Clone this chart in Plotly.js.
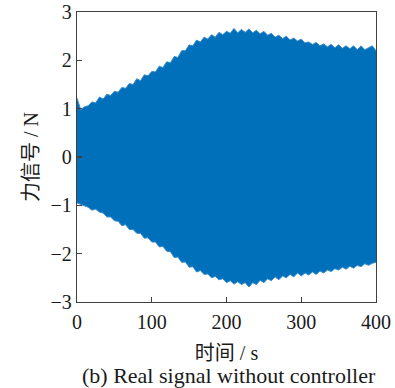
<!DOCTYPE html>
<html>
<head>
<meta charset="utf-8">
<script src="https://cdn.plot.ly/plotly-3.0.1.min.js"></script>
<style>html,body{margin:0;padding:0;background:#fff;}#chart{width:395px;height:388px;}</style>
</head>
<body>
<div id="chart"></div>
<script>
// time (s), sampled every 5 s
var timeS = [0,5,10,15,20,25,30,35,40,45,50,55,60,65,70,75,80,85,90,95,100,105,110,115,120,125,130,135,140,145,150,155,160,165,170,175,180,185,190,195,200,205,210,215,220,225,230,235,240,245,250,255,260,265,270,275,280,285,290,295,300,305,310,315,320,325,330,335,340,345,350,355,360,365,370,375,380,385,390,395,400];
// upper envelope of the force signal (N)
var upperN = [1.22,0.98,1.04,1.06,1.14,1.12,1.24,1.2,1.3,1.27,1.36,1.34,1.44,1.42,1.52,1.5,1.62,1.58,1.7,1.68,1.77,1.76,1.88,1.85,1.97,1.95,2.08,2.06,2.2,2.2,2.32,2.3,2.42,2.38,2.48,2.44,2.53,2.48,2.58,2.53,2.6,2.56,2.66,2.57,2.64,2.58,2.65,2.57,2.62,2.55,2.6,2.52,2.56,2.48,2.52,2.45,2.5,2.42,2.46,2.4,2.44,2.36,2.38,2.33,2.37,2.3,2.34,2.28,2.33,2.26,2.32,2.25,2.3,2.24,2.3,2.22,2.3,2.22,2.26,2.3,2.2];
// lower envelope of the force signal (N)
var lowerN = [-0.95,-0.98,-1.02,-1.04,-1.1,-1.08,-1.14,-1.16,-1.24,-1.24,-1.32,-1.33,-1.42,-1.4,-1.5,-1.5,-1.58,-1.58,-1.68,-1.67,-1.76,-1.76,-1.86,-1.85,-1.95,-1.96,-2.08,-2.07,-2.18,-2.17,-2.28,-2.27,-2.38,-2.35,-2.43,-2.42,-2.5,-2.47,-2.54,-2.52,-2.6,-2.56,-2.63,-2.58,-2.64,-2.6,-2.69,-2.6,-2.64,-2.55,-2.6,-2.52,-2.56,-2.48,-2.54,-2.46,-2.5,-2.43,-2.48,-2.4,-2.46,-2.4,-2.44,-2.38,-2.43,-2.36,-2.4,-2.34,-2.37,-2.31,-2.34,-2.28,-2.32,-2.26,-2.3,-2.24,-2.27,-2.21,-2.24,-2.2,-2.18];

var xTicks = [0,100,200,300,400];
var yTicks = [-3,-2,-1,0,1,2,3];

var serif = 'Liberation Serif, Noto Sans CJK SC, serif';
var fillBlue = '#0070BA';
var edgeBlue = '#3a8dcc';
var ink = '#1a1a1a';

var traces = [
  {x: timeS, y: upperN, type: 'scatter', mode: 'lines',
   line: {color: edgeBlue, width: 1}, hoverinfo: 'skip', showlegend: false},
  {x: timeS, y: lowerN, type: 'scatter', mode: 'lines', fill: 'tonexty',
   fillcolor: fillBlue, line: {color: edgeBlue, width: 1}, hoverinfo: 'skip', showlegend: false}
];

var layout = {
  width: 395, height: 388,
  margin: {l: 77, r: 19, t: 12, b: 86},
  paper_bgcolor: '#fff', plot_bgcolor: '#fff',
  font: {family: serif, size: 20, color: ink},
  showlegend: false,
  xaxis: {
    range: [0, 400], tickvals: xTicks, ticktext: xTicks.map(String),
    ticks: 'inside', ticklen: 5, tickwidth: 1.2, tickcolor: '#404040',
    showline: true, linecolor: '#404040', linewidth: 1.2, mirror: true,
    showgrid: false, zeroline: false, ticklabelstandoff: 2,
    tickfont: {family: serif, size: 20, color: ink},
    title: {text: '时间 / s', font: {family: serif, size: 20, color: ink}, standoff: 13}
  },
  yaxis: {
    range: [-3, 3], tickvals: yTicks, ticktext: yTicks.map(function(v){return v<0 ? '\u2212'+Math.abs(v) : String(v);}),
    ticks: 'inside', ticklen: 5, tickwidth: 1.2, tickcolor: '#404040',
    showline: true, linecolor: '#404040', linewidth: 1.2, mirror: true,
    showgrid: false, zeroline: false,
    tickfont: {family: serif, size: 20, color: ink},
    title: {text: '力信号 / N', font: {family: serif, size: 20, color: ink}, standoff: 6}
  },
  annotations: [{
    text: '(b) Real signal without controller', xref: 'paper', yref: 'paper',
    x: 0.51, y: -0.255, xanchor: 'center', yanchor: 'middle', showarrow: false,
    font: {family: serif, size: 22, color: ink}
  }]
};

Plotly.newPlot('chart', traces, layout, {displayModeBar: false, staticPlot: true});
</script>
</body>
</html>
